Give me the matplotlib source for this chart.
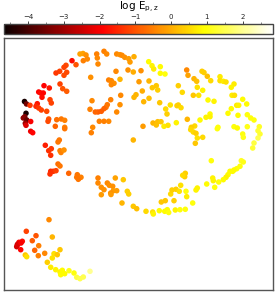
import matplotlib
matplotlib.use('Agg')
import matplotlib.pyplot as plt
import numpy as np

# embedding coordinates (arbitrary units) and log E_p,z of each point
px = [
    # upper-left arc
    80, 83, 86, 83.3, 87.3, 72, 76, 66, 64, 66.7, 59.7, 56, 64, 60, 62.7, 66.7,
    44, 49.3, 38.7, 40.7, 43.3, 42, 50, 51.3, 24.5, 26.5, 30, 37.3, 36, 38.7,
    41.3, 46.7, 26, 24.7, 23.3, 26.7, 30.7, 25.3, 26, 48.7, 48, 56.7, 61.3,
    64.7, 55.3, 64.7, 92, 90, 90.7, 92.7,
    # top middle
    96.7, 97.3, 98, 104, 106.7, 116.7, 120, 122, 124.7, 128.7, 130, 134, 128,
    133.3, 116, 108.7, 111.3, 114, 111.3, 120, 136, 134, 120.7, 110.7, 107.3,
    106, 104, 101.3, 98, 95.3, 99.3, 104, 108.7, 116.7, 120,
    141, 139, 149, 152.3, 156.3, 157.7, 142.3, 143.7, 149, 159.7, 148.7, 152,
    153.7, 160.3, 160.3, 165, 178.3, 182.3, 170.3, 165.7, 167, 177, 178.3, 181,
    143, 153, 156.3, 157.7, 161, 176.3, 164, 168,
    # top right
    186.7, 188, 202, 204, 194, 196.7, 197.3, 202.7, 193.3, 198.7, 207.3, 210.7,
    220, 220, 223.3, 226, 234, 231.3, 232, 234.5, 208, 214, 242.7, 246.7, 236.7,
    238.7, 231.3, 228, 238, 247.3, 250.7, 254, 210, 210, 206, 200, 187.3, 194.7,
    191.3, 218, 234, 237.3, 247.3, 259.3,
    # right arm
    190.7, 193.3, 196, 197.3, 195.3, 202.7, 217.3, 242.7, 243.3, 258, 260, 258,
    254, 252.7, 211.3, 241.3, 243.3, 240, 236.7, 234, 232.7, 230, 228, 226,
    223.3, 218.7, 212.7, 213.3, 214.7, 206.7, 197.3, 196, 185.3, 184.7, 186,
    186.7, 192.7, 185.3,
    # lower middle
    133.3, 98, 98, 101.3, 104, 107.3, 109.3, 112.7, 115.3, 123.3, 113.3, 116.7,
    110.7, 111, 101.3, 127.3, 128.7, 122, 133.3, 136.7, 146, 152.7, 153.3,
    159.3, 161.3, 165.3, 164.7, 167.3, 168.7, 174, 175.3, 170.7, 172, 176,
    179.3, 180.7, 182.7, 180,
    # left lower arc
    30.7, 32.7, 64.7, 45.3, 48.7, 51.3, 50.7, 59.3, 58, 60, 61, 64, 58, 60,
    50.7, 50, 53.3, 56, 68.7, 77.3, 79.3, 81, 76.7, 78.3, 91.3,
    # bottom-left cluster
    49, 26.3, 36, 32.3, 22.3, 19, 17.3, 16.7, 20.7, 18, 21, 38.7, 34.7, 44.7,
    38.3, 52.3, 25.3, 26.7, 54, 57.3, 60, 52.3, 47.3, 50.7, 55.7, 60, 62.3,
    64.7, 69, 74, 76.7, 80, 83.3, 90, 60.7,
]
py = [
    54, 53.5, 55, 60.7, 59, 60.7, 64.7, 65.3, 67.3, 72.3, 71.3, 73, 75.3, 84,
    88.7, 91.3, 85.7, 88, 92, 93, 93, 97.3, 99.7, 103, 101.5, 104, 105.3, 103.7,
    106.3, 108, 110, 111.3, 113.3, 116.7, 118, 120, 121.5, 123.3, 125.3, 119,
    121.3, 119.7, 119, 120.3, 126.3, 127.3, 100.7, 109.3, 77.3, 127.3,
    54, 58, 64, 51.3, 54, 54, 54.7, 55.3, 57.3, 58.7, 62, 56.7, 70, 72, 71.3,
    80, 80.7, 83.3, 84.7, 79.3, 94.7, 97.3, 95.3, 99.7, 104.7, 107.3, 108.7,
    111.3, 112, 112, 121.3, 121.3, 121.3, 112, 104.7,
    70.7, 81.7, 81, 87.7, 85.7, 90, 91, 101.7, 98.3, 102.7, 61.7, 65.7, 69,
    66.7, 73.3, 74, 85.7, 92.3, 105, 109, 114, 105.7, 105, 107.7,
    126.3, 123, 125, 121.7, 121.7, 122.7, 126.3, 125.3,
    70, 75.3, 71.3, 72.5, 78.7, 81.3, 87.3, 90.3, 95.3, 95.3, 76.3, 80.7, 76.7,
    80.7, 81.3, 82, 84, 87.3, 95.3, 95.3, 100, 101.3, 99.3, 104, 105.3, 105.3,
    108.7, 113.3, 115.3, 114.7, 118, 120, 114, 116.7, 117.3, 120, 119.3, 126,
    127.3, 127.3, 126.7, 128, 126.7, 126.7,
    129.7, 132, 133.3, 138, 143.3, 137.3, 128.7, 134, 137.3, 130.7, 134, 138,
    143, 148, 160.7, 160.7, 162, 166.3, 168.7, 170, 171.3, 171.3, 174.7, 177.3,
    179.7, 182, 178, 180.7, 187.3, 184, 188, 190, 173.3, 176.7, 191.3, 196.7,
    203, 209.3,
    140, 178, 183, 187.3, 189.7, 183, 185.3, 186.3, 178, 179.7, 190.7, 190.7,
    193, 194.5, 194.7, 191.3, 194, 203, 206.3, 208.7, 211.3, 212, 214, 210.7,
    202, 200.7, 211.3, 209.7, 212.5, 200.7, 210, 194, 190, 189.3, 191.3, 185.3,
    175.3, 209.7,
    131.3, 132.7, 128.7, 145.3, 150.7, 148.7, 155.3, 140, 142, 150.7, 152.5,
    150, 164, 166, 171.3, 174, 171.3, 170.7, 173.3, 174.7, 178, 177.3, 177.3,
    179.3, 132.7,
    219.7, 231.3, 235.7, 240.7, 241.3, 242.3, 244.7, 246.7, 249.7, 244, 243,
    245.7, 250.3, 253.3, 255.7, 237, 255, 256.7, 253.7, 254.7, 249.7, 258,
    262.3, 267.3, 269.7, 272, 270.3, 273.7, 270.7, 273, 277.3, 278.7, 277, 271.3,
    274.7,
]
log_e = [
    -0.1, -0.1, -0.3, -0.5, -0.4, -1.8, -1.0, -1.1, -1.2, -1.1, -1.2, -1.3,
    -1.1, -1.2, -1.0, -0.9, -1.9, -1.7, -1.9, -1.8, -1.9, -1.8, -1.2, -1.2,
    -4.5, -3.5, -1.3, -1.7, -1.5, -1.3, -1.2, -1.1, -4.5, -3.4, -3.2, -3.6,
    -2.0, -3.0, -2.3, -1.0, -1.1, -0.7, -0.6, -0.5, -0.8, -0.5, -0.4, -0.5,
    -0.3, -0.4,
    -0.5, -0.4, -0.4, -0.5, -0.4, -0.4, -0.3, -0.4, -0.3, -0.2, -0.2, 0.0,
    -0.3, 0.0, -0.4, -0.5, -0.4, -0.3, -0.4, 0.1, 0.1, 0.1, -0.4, -0.5,
    -0.6, -0.6, -0.8, -0.9, -0.9, -0.8, -0.5, -0.5, -0.4, -0.4, -0.3,
    -0.3, -0.2, 0.1, 0.3, 0.3, 0.4, 0.0, 0.1, 0.2, 0.3, 0.9, 0.8, 0.7,
    0.9, 0.9, 1.0, 0.4, 0.5, 0.6, 0.5, 0.4, 0.4, 0.4, 0.5,
    -0.2, 0.1, 0.2, 0.2, 0.3, 0.8, 0.7, 0.6,
    -0.4, -0.1, 0.4, 0.4, 0.1, 0.2, 0.6, 0.8, 0.3, 0.6, 0.2, 0.5, 0.7, 0.6,
    0.7, 0.6, 0.7, 0.8, 0.7, 0.6, 0.9, 0.8, 0.9, 0.9, 0.7, 0.8, 0.9, 0.9, 0.9,
    1.0, 1.0, 1.0, 0.9, 0.8, 0.8, 0.9, 0.1, 0.5, 0.4, 1.0, 1.0, 0.9, 1.1, 1.2,
    0.5, 0.5, 0.4, 0.6, 0.3, 0.5, 1.0, 1.0, 1.1, 1.3, 1.3, 1.5, 1.4, 1.3, 1.0,
    1.2, 1.1, 1.0, 1.0, 0.9, 0.9, 0.9, 0.9, 0.8, 0.9, 1.0, 0.8, 0.8, 1.0, 0.9,
    0.8, 0.8, 0.4, 0.4, 1.0, 0.7, 1.0, 1.0,
    0.1, -0.5, -0.4, -0.3, -0.3, -0.4, -0.3, -0.3, -0.1, 0.3, -0.2, -0.2,
    -0.3, -0.2, -0.2, 0.4, 0.4, 0.1, 0.3, 0.2, 0.5, 0.6, 0.8, 0.9, 0.3, 0.3,
    0.9, 0.9, 1.0, 0.4, 0.8, 0.5, 0.4, 0.4, 0.6, 0.6, 0.5, 1.0,
    -2.1, -1.9, -0.6, -1.6, -1.4, -1.3, -1.4, -0.6, -0.6, -0.5, -0.5, -0.3,
    -0.7, -0.6, -1.5, -1.4, -1.4, -1.2, -0.8, -0.6, -0.6, -0.5, -0.6, -0.6,
    -0.5,
    -0.4, -1.2, -1.0, -0.9, -1.8, -1.9, -2.6, -2.4, -1.9, -2.3, -2.0, -0.5,
    -0.8, -0.4, -0.5, 0.1, 0.3, 0.6, 0.6, 0.3, 0.3, 0.6, 0.4, 0.7, 0.8, 0.8,
    0.9, 0.9, 1.1, 1.0, 1.4, 1.5, 1.5, 2.0, 0.9,
]

vmin, vmax = -4.67, 2.84
cbar_ticks = [-4, -3, -2, -1, 0, 1, 2]

fig = plt.figure(figsize=(2.77, 2.95), dpi=100)
ax = fig.add_axes([4 / 277, 5 / 295, 268.7 / 277, 252 / 295])
cax = fig.add_axes([4 / 277, 261 / 295, 268.7 / 277, 10 / 295])

sc = ax.scatter(px, py, c=log_e, cmap='hot', vmin=vmin, vmax=vmax,
                s=16, linewidths=0)
ax.set_xlim(4, 272.7)
ax.set_ylim(290, 38)
ax.set_xticks([])
ax.set_yticks([])
for sp in ax.spines.values():
    sp.set_color('#555555')
    sp.set_linewidth(1.0)

cb = fig.colorbar(sc, cax=cax, orientation='horizontal', ticks=cbar_ticks)
cb.outline.set_edgecolor('#444444')
cb.outline.set_linewidth(1.0)
cax.xaxis.set_ticks_position('top')
cax.xaxis.set_label_position('top')
cax.set_xticks(np.arange(-4.5, 3.0, 0.5), minor=True)
cax.tick_params(axis='x', which='major', labelsize=5, length=2, width=0.6,
                pad=1, colors='#222222')
cax.tick_params(axis='x', which='minor', length=1.2, width=0.5,
                colors='#555555')
cb.set_label(r'log E$_{\rm p,z}$', fontsize=7.5, labelpad=3)

fig.savefig('out.png', dpi=100)
plt.close(fig)
